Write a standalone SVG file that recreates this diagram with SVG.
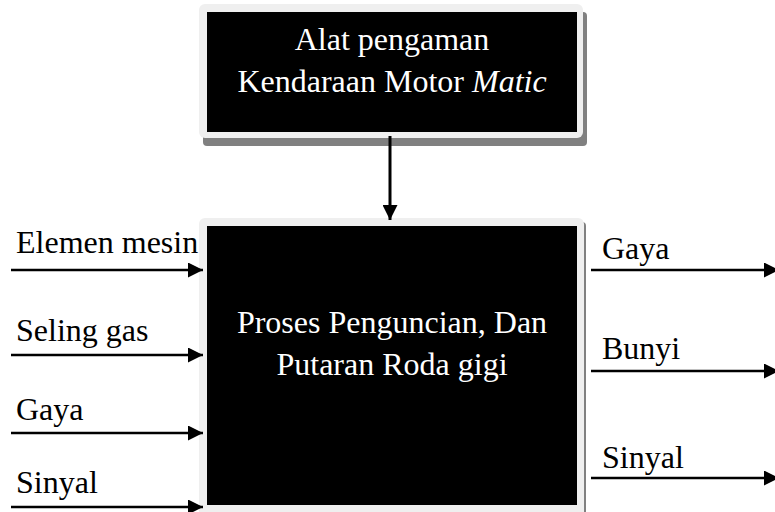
<svg xmlns="http://www.w3.org/2000/svg" width="775" height="512" viewBox="0 0 775 512">
<style>
.shadow{fill:#808080}
.frame{fill:#efefef}
.core{fill:#000}
.inner{font-family:"Liberation Serif","Times New Roman",serif;font-size:32px;fill:#fff;text-anchor:middle}
.lbl{font-family:"Liberation Serif","Times New Roman",serif;font-size:32px;fill:#000}
.ln{stroke:#000;stroke-width:2.5;fill:none}
.ln3{stroke:#000;stroke-width:3;fill:none}
</style>
<defs>
<marker id="ah" markerWidth="16" markerHeight="15" refX="15" refY="7.5" orient="auto" markerUnits="userSpaceOnUse">
<polygon points="0,0 15,7.5 0,15" fill="#000"/>
</marker>
</defs>
<rect width="775" height="512" fill="#fff"/>
<g id="node-top">
<rect class="shadow" x="203" y="12" width="384" height="134" rx="4"/>
<rect class="frame" x="199" y="4" width="384" height="134" rx="6"/>
<rect class="core" x="207" y="12" width="370" height="120"/>
<text class="inner" x="392" y="50">Alat pengaman</text>
<text class="inner" x="392" y="92">Kendaraan Motor <tspan font-style="italic">Matic</tspan></text>
</g>
<g id="node-process">
<rect class="shadow" x="201" y="222" width="385" height="300" rx="4"/>
<rect class="frame" x="199" y="218" width="385" height="300" rx="6"/>
<rect class="core" x="207" y="226" width="370" height="279"/>
<text class="inner" x="392" y="333">Proses Penguncian, Dan</text>
<text class="inner" x="392" y="375">Putaran Roda gigi</text>
</g>
<g id="labels">
<text class="lbl" x="16" y="253">Elemen mesin</text>
<text class="lbl" x="16" y="341">Seling gas</text>
<text class="lbl" x="16" y="420">Gaya</text>
<text class="lbl" x="16" y="493">Sinyal</text>
<text class="lbl" x="602" y="259">Gaya</text>
<text class="lbl" x="602" y="359">Bunyi</text>
<text class="lbl" x="602" y="468">Sinyal</text>
</g>
<g id="connectors">
<line class="ln3" x1="390" y1="136" x2="390" y2="220" marker-end="url(#ah)"/>
<line class="ln" x1="11" y1="270" x2="203" y2="270" marker-end="url(#ah)"/>
<line class="ln" x1="11" y1="355" x2="203" y2="355" marker-end="url(#ah)"/>
<line class="ln" x1="11" y1="433" x2="203" y2="433" marker-end="url(#ah)"/>
<line class="ln" x1="11" y1="507" x2="203" y2="507" marker-end="url(#ah)"/>
<line class="ln" x1="591" y1="270" x2="779" y2="270" marker-end="url(#ah)"/>
<line class="ln" x1="591" y1="371" x2="779" y2="371" marker-end="url(#ah)"/>
<line class="ln" x1="591" y1="478" x2="779" y2="478" marker-end="url(#ah)"/>
</g>
</svg>
